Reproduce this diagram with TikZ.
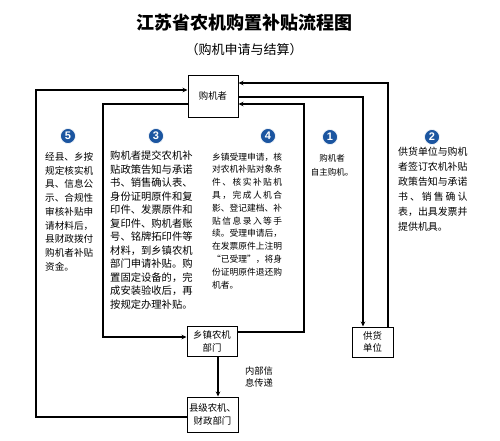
\documentclass[tikz,border=0pt]{standalone}
\usepackage{fontspec}
\setmainfont{Noto Sans CJK SC}
\newfontfamily\numfont{Liberation Sans}
\usetikzlibrary{arrows.meta}
\definecolor{numblue}{HTML}{1B55A0}
\begin{document}
\begin{tikzpicture}[x=1pt,y=-1pt,
  box/.style={draw, line width=1pt, inner sep=0, align=center, font=\fontsize{9.4}{12.5}\selectfont},
  conn/.style={line width=1.1pt},
  arr/.style={conn, -{Stealth[length=5pt,width=4.5pt]}},
  num/.style={circle, fill=numblue, draw=white, line width=0.6pt, text=white, minimum size=15pt, inner sep=0, font=\numfont\bfseries\fontsize{11}{11}\selectfont},
  txt/.style={anchor=north west, inner sep=0, align=left}]
\useasboundingbox (0,0) rectangle (500,440);
\fill[white] (0,0) rectangle (500,440);

% titles
\node[font=\bfseries\fontsize{18}{18}\selectfont] (title) at (244,23) {江苏省农机购置补贴流程图};
\node[font=\fontsize{13}{13}\selectfont] (subtitle) at (244,50) {（购机申请与结算）};

% boxes
\node[box, minimum width=50pt, minimum height=42pt] (buyer) at (213,96) {购机者};
\node[box, minimum width=50pt, minimum height=30pt] (town) at (212,341.5) {乡镇农机\\部门};
\node[box, minimum width=51pt, minimum height=35pt] (county) at (212.5,414.5) {县级农机、\\财政部门};
\node[box, minimum width=41pt, minimum height=30pt] (supplier) at (372.5,342) {供货\\单位};

% helper coordinates
\coordinate (y83) at (0,83);
\coordinate (y90) at (0,90);
\coordinate (y97) at (0,97);
\coordinate (y104) at (0,104);
\coordinate (y332) at (0,332);
\coordinate (y337) at (0,337);
\coordinate (y417) at (0,417);
\coordinate (x218) at (218,0);
\coordinate (x363) at (363,0);
\coordinate (x388) at (388,0);

% connectors
\draw[arr] (county.west|-y417) -- (36,417) -- (36,90) -- (buyer.west|-y90);
\draw[arr] (buyer.west|-y104) -- (103,104) -- (103,337) -- (town.west|-y337);
\draw[arr] (town.east|-y332) -- (304,332) -- (304,104) -- (buyer.east|-y104);
\draw[arr] (buyer.east|-y97) -- (363,97) -- (supplier.north-|x363);
\draw[arr] (supplier.north-|x388) -- (388,83) -- (buyer.east|-y83);
\draw[arr] (town.south-|x218) -- (county.north-|x218);

\node[align=center, inner sep=0, font=\fontsize{9.3}{12.5}\selectfont] (info) at (259,377) {内部信\\息传递};

% numbers
\node[num] (n5) at (68,136) {5};
\node[num] (n3) at (156,136) {3};
\node[num] (n4) at (268,136) {4};
\node[num] (n1) at (330,137) {1};
\node[num] (n2) at (432,137) {2};

% text blocks
\node[txt, font=\fontsize{9.6}{13.75}\selectfont] (t5) at (45,152) {经县、乡按\\规定核实机\\具、信息公\\示、合规性\\审核补贴申\\请材料后，\\县财政拨付\\购机者补贴\\资金。};

\node[txt, font=\fontsize{10.3}{13.5}\selectfont] (t3) at (110,151) {购机者提交农机补\\贴政策告知与承诺\\书、销售确认表、\\身份证明原件和复\\印件、发票原件和\\复印件、购机者账\\号、铭牌拓印件等\\材料，到乡镇农机\\部门申请补贴。购\\置固定设备的，完\\成安装验收后，再\\按规定办理补贴。};

\node[txt, font=\fontsize{8.75}{12.8}\selectfont] (t4) at (212,152.5) {乡镇受理申请，核\\对农机补贴对象条\\\makebox[70pt][s]{件 、 核 实 补 贴 机}\\\makebox[70pt][s]{具 ， 完 成 人 机 合}\\影、登记建档、补\\\makebox[70pt][s]{贴 信 息 录 入 等 手}\\续。受理申请后，\\在发票原件上注明\\“已受理”，将身\\份证明原件退还购\\机者。};

\node[anchor=north, inner sep=0, align=center, font=\fontsize{8.5}{14}\selectfont] (t1) at (332,154.5) {购机者\\自主购机。};

\node[txt, font=\fontsize{9.9}{15}\selectfont] (t2) at (398,147) {供货单位与购机\\者签订农机补贴\\政策告知与承诺\\\makebox[69.3pt][s]{书 、 销 售 确 认}\\表，出具发票并\\提供机具。};
\end{tikzpicture}
\end{document}
